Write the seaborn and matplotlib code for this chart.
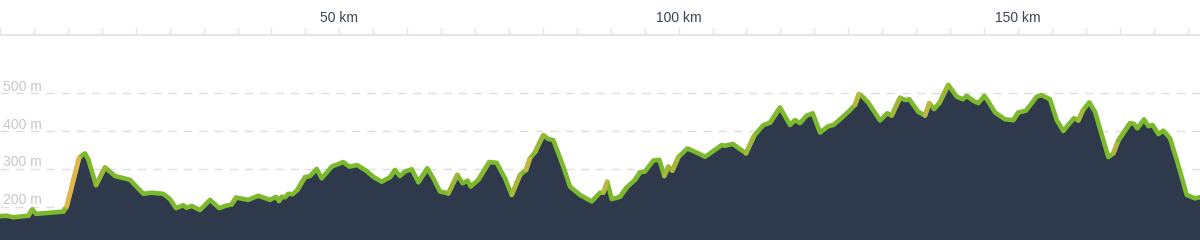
import numpy as np
import pandas as pd
import matplotlib
matplotlib.use("Agg")
import matplotlib.pyplot as plt
import seaborn as sns
from matplotlib.collections import LineCollection

# ---- data ----
distance_km = [
    0.00, 0.99, 1.96, 4.17, 4.76, 5.30, 9.33, 9.83, 11.64, 12.04, 12.53, 13.01,
    14.15, 15.47, 16.95, 19.16, 21.12, 22.35, 24.06, 25.05, 25.94, 27.01, 27.51,
    28.25, 29.47, 30.95, 32.32, 33.16, 34.14, 34.78, 36.59, 38.06, 39.79, 40.67,
    41.11, 41.51, 42.00, 42.48, 43.13, 43.81, 44.94, 45.68, 46.67, 47.41, 48.88,
    50.59, 51.47, 52.65, 54.04, 55.01, 56.25, 57.47, 58.21, 58.94, 59.68, 60.67,
    61.64, 62.97, 63.85, 64.84, 66.06, 67.39, 68.18, 68.92, 69.36, 70.48, 72.10,
    73.19, 74.42, 75.41, 76.63, 77.51, 78.10, 78.84, 79.47, 80.06, 80.80, 81.54,
    83.01, 84.00, 85.47, 87.19, 88.42, 88.90, 89.49, 90.14, 91.36, 92.35, 93.57,
    94.31, 95.05, 96.27, 97.16, 97.89, 98.48, 99.07, 99.96, 101.28, 102.67,
    103.89, 104.63, 106.35, 106.84, 107.97, 109.93, 111.11, 112.48, 113.47,
    114.94, 116.42, 117.15, 117.89, 118.88, 119.76, 120.84, 122.06, 122.80,
    123.78, 125.01, 125.99, 126.58, 127.22, 127.95, 129.68, 130.75, 131.40,
    132.63, 133.36, 134.00, 135.32, 136.31, 136.94, 137.64, 138.42, 139.74,
    140.98, 141.87, 142.46, 143.43, 144.17, 145.05, 145.64, 146.63, 147.36,
    148.10, 149.32, 150.06, 151.19, 152.77, 153.50, 154.73, 155.72, 156.69,
    157.68, 158.27, 158.90, 159.55, 160.52, 161.36, 163.32, 164.06, 164.80,
    166.52, 167.11, 167.60, 168.58, 169.22, 169.86, 170.69, 171.43, 172.41,
    173.40, 174.88, 176.10, 176.83,
]
elevation_m = [
    175, 176, 172, 176, 193, 181, 187, 200, 328, 335, 341, 325,
    257, 304, 281, 271, 234, 237, 234, 220, 196, 204, 197,
    202, 191, 218, 196, 202, 206, 224, 218, 229, 218, 226,
    215, 226, 225, 234, 233, 244, 278, 281, 300, 275, 306,
    318, 306, 310, 294, 279, 266, 278, 297, 281, 293, 299,
    265, 301, 275, 240, 235, 284, 262, 269, 253, 271, 318,
    316, 275, 231, 284, 297, 328, 344, 368, 389, 379, 376,
    306, 253, 231, 214, 237, 237, 266, 220, 226, 251, 271,
    291, 293, 322, 324, 281, 306, 295, 331, 354, 343,
    332, 341, 363, 361, 366, 341, 387, 416, 422,
    462, 416, 429, 421, 441, 447, 396, 413, 416,
    431, 451, 469, 498, 489, 475, 428, 447, 441,
    488, 482, 484, 451, 441, 474, 458, 474, 522,
    491, 484, 493, 480, 474, 493, 478, 449, 440,
    431, 429, 449, 454, 491, 495, 484, 429, 400,
    422, 434, 428, 454, 476, 451, 331, 341, 375,
    421, 419, 407, 431, 413, 416, 392, 401, 381,
    324, 231, 222, 225,
]
grid_levels = [200, 300, 400, 500]
label_km = [50, 100, 150]

df = pd.DataFrame({"km": distance_km, "ele": elevation_m})

sns.set_style("white")
plt.rcParams["font.family"] = ["Liberation Sans", "DejaVu Sans"]

fig = plt.figure(figsize=(12, 2.4), dpi=100)
ax = fig.add_axes([0, 0, 1, 205 / 240])
xmax = 176.83
ax.set_xlim(0, xmax)
ax.set_ylim(111.9, 654)

# dashed gridlines
for v in grid_levels:
    ax.axhline(v, color="#dedede", lw=1, dashes=(6, 5), zorder=0)
    ax.annotate(f"{v} m", xy=(0, v), xycoords=("axes fraction", "data"),
                xytext=(3, 2.5), textcoords="offset pixels", va="baseline",
                ha="left", color="#c8c8c8", fontsize=10.2, zorder=1)

# area
ax.fill_between(df["km"], df["ele"], 0, color="#2e3a4b", lw=0, zorder=2)

# green line (seaborn)
sns.lineplot(data=df, x="km", y="ele", ax=ax, color="#7cb92c", lw=3.3,
             solid_joinstyle="round", solid_capstyle="round", zorder=3)

# gradient tint on steep climbs
x = np.asarray(distance_km)
y = np.asarray(elevation_m, dtype=float)
grade = np.diff(y) / np.diff(x)
t = np.clip((grade - 25) / 40, 0, 1)
green = np.array([0x7c, 0xb9, 0x2c]) / 255
orange = np.array([0xe3, 0xb5, 0x4a]) / 255
cols = [tuple(green * (1 - ti) + orange * ti) for ti in t]
segs = [[(x[i], y[i]), (x[i + 1], y[i + 1])] for i in range(len(x) - 1)]
mask = t > 0
lc = LineCollection([s for s, m in zip(segs, mask) if m],
                    colors=[c for c, m in zip(cols, mask) if m],
                    linewidths=3.3, capstyle="round", joinstyle="round", zorder=4)
ax.add_collection(lc)

# top axis
ticks = np.arange(0, 180, 5)
ax.set_xticks(ticks)
ax.set_xticklabels([f"{int(k)} km" if k in label_km else "" for k in ticks])
ax.xaxis.tick_top()
ax.tick_params(axis="x", which="major", length=5.2, width=1, color="#e2e2e2",
               pad=2, labelsize=10, labelcolor="#3b4552", direction="out")
ax.set_yticks([])
ax.set_xlabel("")
ax.set_ylabel("")
for s in ["left", "right", "bottom"]:
    ax.spines[s].set_visible(False)
ax.spines["top"].set_color("#e2e2e2")
ax.spines["top"].set_linewidth(1.2)
ax.set_facecolor("white")
if ax.get_legend():
    ax.get_legend().remove()

fig.savefig("out.png", dpi=100, facecolor="white")
